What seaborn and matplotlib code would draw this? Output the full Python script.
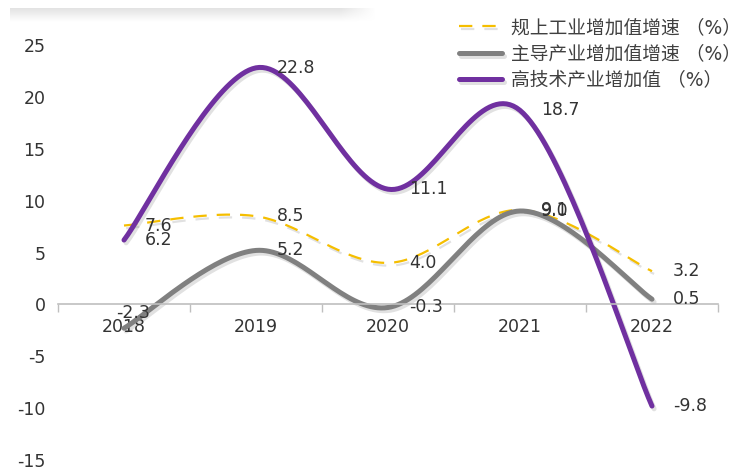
import numpy as np
import pandas as pd
import seaborn as sns
import matplotlib.pyplot as plt
from matplotlib import patheffects as pe

years = ['2018', '2019', '2020', '2021', '2022']
gyzz = [7.6, 8.5, 4.0, 9.1, 3.2]     # 规上工业增加值增速
zdcy = [-2.3, 5.2, -0.3, 9.0, 0.5]   # 主导产业增加值增速
gjs = [6.2, 22.8, 11.1, 18.7, -9.8]  # 高技术产业增加值
names = ['规上工业增加值增速 （%）', '主导产业增加值增速 （%）', '高技术产业增加值 （%）']


def smooth(vals, n=40):
    # Excel-like smoothed line: Catmull-Rom control points -> cubic bezier
    p = np.array([[i, v] for i, v in enumerate(vals)], dtype=float)
    pts = []
    for i in range(len(p) - 1):
        p0 = p[max(i - 1, 0)]
        p3 = p[min(i + 2, len(p) - 1)]
        c1 = p[i] + (p[i + 1] - p0) / 6
        c2 = p[i + 1] - (p3 - p[i]) / 6
        t = np.linspace(0, 1, n)[:, None]
        seg = ((1 - t) ** 3 * p[i] + 3 * (1 - t) ** 2 * t * c1
               + 3 * (1 - t) * t ** 2 * c2 + t ** 3 * p[i + 1])
        pts.append(seg if i == 0 else seg[1:])
    pts = np.vstack(pts)
    return pd.DataFrame({'x': pts[:, 0], 'y': pts[:, 1]})


sns.set_theme(style='white')
plt.rcParams['font.family'] = ['DejaVu Sans', 'Noto Sans CJK SC']
plt.rcParams['axes.unicode_minus'] = False

fig = plt.figure(figsize=(7.42, 4.71), dpi=100)
ax = fig.add_axes([58 / 742, 11 / 471, 660 / 742, 415 / 471])

shadow = [pe.SimpleLineShadow(offset=(1.5, -2), alpha=0.13, shadow_color='k'), pe.Normal()]
styles = [
    dict(color='#F5BE00', lw=1.6, dashes=(6, 4.5)),
    dict(color='#808080', lw=3.6),
    dict(color='#7030A0', lw=3.6),
]
for vals, name, st in zip([gyzz, zdcy, gjs], names, styles):
    d = smooth(vals)
    sns.lineplot(data=d, x='x', y='y', sort=False, estimator=None, ax=ax,
                 color=st['color'], linewidth=st['lw'], label=name)
    l = ax.lines[-1]
    if 'dashes' in st:
        l.set_dashes(st['dashes'])
    l.set_path_effects(shadow)
    l.set_solid_capstyle('round')
    l.set_clip_on(False)

# data labels
px = 0.72
for vals in [gyzz, zdcy, gjs]:
    for i, v in enumerate(vals):
        off = (21 * px, 0)
        if v == -2.3:
            off = (-8 * px, 15 * px)
        ax.annotate(f'{v:.1f}', (i, v), xytext=off, textcoords='offset points',
                    ha='left', va='center', fontsize=12.5, color='#333333')

ax.set_xlim(-0.5, 4.5)
ax.set_ylim(-15, 25)
ax.set_yticks(range(-15, 30, 5))
ax.set_xticks(np.arange(-0.5, 5, 1))
ax.set_xticklabels([])
ax.set_xticks(range(5), minor=True)
ax.set_xticklabels(years, minor=True)
ax.tick_params(axis='x', which='major', length=6, width=1, color='#bfbfbf', direction='out', bottom=True)
ax.tick_params(axis='x', which='minor', length=0, pad=10, labelsize=12.5, labelcolor='#333333')
ax.tick_params(axis='y', length=0, pad=9, labelsize=12.5, labelcolor='#333333')
ax.set_xlabel('')
ax.set_ylabel('')
for s in ['left', 'top', 'right']:
    ax.spines[s].set_visible(False)
ax.spines['bottom'].set_position(('data', 0))
ax.spines['bottom'].set_color('#bfbfbf')
ax.spines['bottom'].set_linewidth(1.2)
ax.grid(False)

leg = ax.legend(loc='upper left', bbox_to_anchor=(459 / 742, 1 - 18 / 471),
                bbox_transform=fig.transFigure, frameon=False, fontsize=13.5,
                handlelength=2.3, handletextpad=0.45, labelspacing=0.4,
                borderpad=0, borderaxespad=0)
for t in leg.get_texts():
    t.set_color('#404040')

# faint shadow band at top left
gax = fig.add_axes([10 / 742, 1 - 22 / 471, 365 / 742, 14 / 471])
h, w = 20, 300
img = np.ones((h, w, 4))
img[..., :3] = 0.78
a = np.linspace(0.5, 0.0, h)[:, None] * np.clip((w - np.arange(w)) / 30, 0, 1)[None, :]
img[..., 3] = a
gax.imshow(img, aspect='auto')
gax.axis('off')

fig.savefig('out.png', dpi=100)
